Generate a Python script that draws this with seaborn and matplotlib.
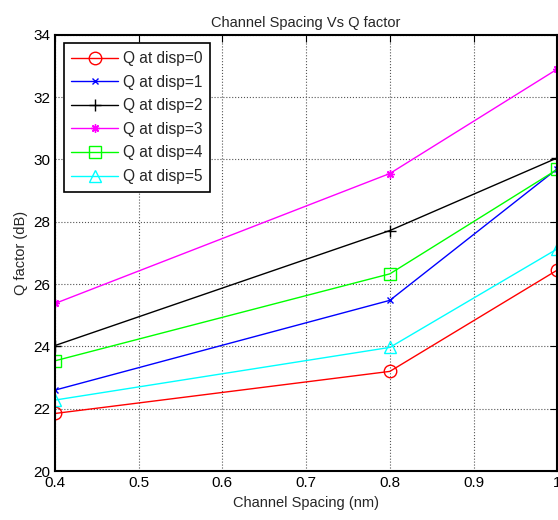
import matplotlib
matplotlib.use("Agg")
import matplotlib.pyplot as plt
import seaborn as sns
import pandas as pd

spacing = [0.4, 0.8, 1.0]
q_disp0 = [21.85, 23.2, 26.45]
q_disp1 = [22.6, 25.48, 29.7]
q_disp2 = [24.03, 27.72, 30.05]
q_disp3 = [25.38, 29.55, 32.9]
q_disp4 = [23.54, 26.33, 29.68]
q_disp5 = [22.28, 23.97, 27.13]
labels = ["Q at disp=0", "Q at disp=1", "Q at disp=2", "Q at disp=3", "Q at disp=4", "Q at disp=5"]

series = [q_disp0, q_disp1, q_disp2, q_disp3, q_disp4, q_disp5]
colors = ["#ff0000", "#0000ff", "#000000", "#ff00ff", "#00ff00", "#00ffff"]
markers = ["o", "x", "+", (8, 2, 0), "s", "^"]
msizes = [9, 5, 9, 6, 9, 9]

sns.set_style("white")
plt.rcParams['font.family'] = ['Liberation Sans', 'DejaVu Sans']

fig = plt.figure(figsize=(5.58, 5.2), dpi=100)
ax = fig.add_axes([0.0986, 0.094, 0.9, 0.839])

for vals, lab, c, m, ms in zip(series, labels, colors, markers, msizes):
    df = pd.DataFrame({"x": spacing, "y": vals})
    sns.lineplot(data=df, x="x", y="y", ax=ax, color=c, marker=m, markersize=ms,
                 markerfacecolor="none", markeredgecolor=c, markeredgewidth=1.0,
                 linewidth=1.0, label=lab)

ax.set_xlim(0.4, 1.0)
ax.set_ylim(20, 34)
ax.set_xticks([0.4, 0.5, 0.6, 0.7, 0.8, 0.9, 1.0])
ax.set_xticklabels(["0.4", "0.5", "0.6", "0.7", "0.8", "0.9", "1"])
ax.set_yticks([20, 22, 24, 26, 28, 30, 32, 34])
ax.tick_params(direction="in", length=5, labelsize=11, top=True, right=True, colors="black")
ax.grid(True, linestyle=":", color="#555555", linewidth=0.8)
for s in ax.spines.values():
    s.set_color("black")
    s.set_linewidth(1.5)
ax.set_xlabel("Channel Spacing (nm)", fontsize=10.5)
ax.set_ylabel("Q factor (dB)", fontsize=10.5)
ax.set_title("Channel Spacing Vs Q factor", fontsize=10.5)

leg = ax.legend(loc="upper left", fontsize=11.2, fancybox=False, edgecolor="black",
                framealpha=1, handlelength=3.0, handletextpad=0.3, borderaxespad=0.55,
                labelspacing=0.55, borderpad=0.5)
leg.get_frame().set_linewidth(1.2)

fig.savefig("out.png", dpi=100)
